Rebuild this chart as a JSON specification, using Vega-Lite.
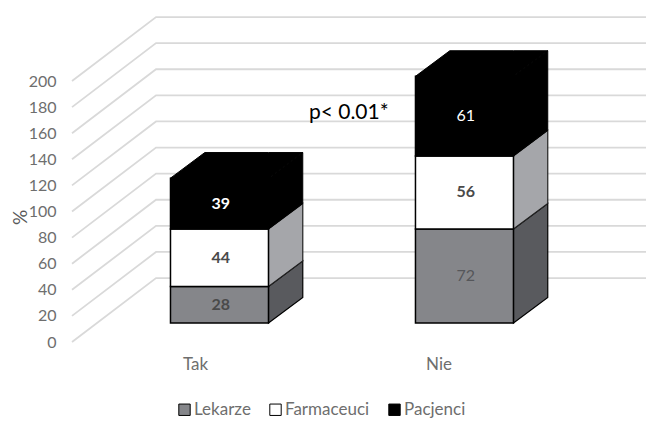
{
  "$schema": "https://vega.github.io/schema/vega-lite/v6.json",
  "width": 598,
  "height": 427,
  "autosize": "none",
  "padding": {"left": 60, "top": 0, "right": 0, "bottom": 0},
  "background": "white",
  "config": {"view": {"stroke": null}, "font": "Lato"},
  "datasets": {
    "grid": [
      {"tick": 0, "x": 0.398, "y": 0}, {"tick": 0, "x": 0.741, "y": 49}, {"tick": 0, "x": 2.741, "y": 49},
      {"tick": 20, "x": 0.398, "y": 20}, {"tick": 20, "x": 0.741, "y": 69}, {"tick": 20, "x": 2.741, "y": 69},
      {"tick": 40, "x": 0.398, "y": 40}, {"tick": 40, "x": 0.741, "y": 89}, {"tick": 40, "x": 2.741, "y": 89},
      {"tick": 60, "x": 0.398, "y": 60}, {"tick": 60, "x": 0.741, "y": 109}, {"tick": 60, "x": 2.741, "y": 109},
      {"tick": 80, "x": 0.398, "y": 80}, {"tick": 80, "x": 0.741, "y": 129}, {"tick": 80, "x": 2.741, "y": 129},
      {"tick": 100, "x": 0.398, "y": 100}, {"tick": 100, "x": 0.741, "y": 149}, {"tick": 100, "x": 2.741, "y": 149},
      {"tick": 120, "x": 0.398, "y": 120}, {"tick": 120, "x": 0.741, "y": 169}, {"tick": 120, "x": 2.741, "y": 169},
      {"tick": 140, "x": 0.398, "y": 140}, {"tick": 140, "x": 0.741, "y": 189}, {"tick": 140, "x": 2.741, "y": 189},
      {"tick": 160, "x": 0.398, "y": 160}, {"tick": 160, "x": 0.741, "y": 209}, {"tick": 160, "x": 2.741, "y": 209},
      {"tick": 180, "x": 0.398, "y": 180}, {"tick": 180, "x": 0.741, "y": 229}, {"tick": 180, "x": 2.741, "y": 229},
      {"tick": 200, "x": 0.398, "y": 200}, {"tick": 200, "x": 0.741, "y": 249}, {"tick": 200, "x": 2.741, "y": 249}
    ],
    "bars": [
      {"cat": "Tak", "series": "Lekarze", "value": 28, "left": 0.8, "right": 1.2, "center": 1.005, "start": 0, "end": 28, "mid": 14},
      {"cat": "Tak", "series": "Farmaceuci", "value": 44, "left": 0.8, "right": 1.2, "center": 1.005, "start": 28, "end": 72, "mid": 50},
      {"cat": "Tak", "series": "Pacjenci", "value": 39, "left": 0.8, "right": 1.2, "center": 1.005, "start": 72, "end": 111, "mid": 91.5},
      {"cat": "Nie", "series": "Lekarze", "value": 72, "left": 1.8, "right": 2.2, "center": 2.005, "start": 0, "end": 72, "mid": 36},
      {"cat": "Nie", "series": "Farmaceuci", "value": 56, "left": 1.8, "right": 2.2, "center": 2.005, "start": 72, "end": 128, "mid": 100},
      {"cat": "Nie", "series": "Pacjenci", "value": 61, "left": 1.8, "right": 2.2, "center": 2.005, "start": 128, "end": 189, "mid": 158.5}
    ],
    "sides": [
      {"cat": "Tak", "series": "Lekarze", "x": 1.2, "low": 0, "high": 28},
      {"cat": "Tak", "series": "Lekarze", "x": 1.34, "low": 19.6, "high": 47.6},
      {"cat": "Tak", "series": "Farmaceuci", "x": 1.2, "low": 28, "high": 72},
      {"cat": "Tak", "series": "Farmaceuci", "x": 1.34, "low": 47.6, "high": 91.6},
      {"cat": "Tak", "series": "Pacjenci", "x": 1.2, "low": 72, "high": 111},
      {"cat": "Tak", "series": "Pacjenci", "x": 1.34, "low": 91.6, "high": 130.6},
      {"cat": "Nie", "series": "Lekarze", "x": 2.2, "low": 0, "high": 72},
      {"cat": "Nie", "series": "Lekarze", "x": 2.34, "low": 19.6, "high": 91.6},
      {"cat": "Nie", "series": "Farmaceuci", "x": 2.2, "low": 72, "high": 128},
      {"cat": "Nie", "series": "Farmaceuci", "x": 2.34, "low": 91.6, "high": 147.6},
      {"cat": "Nie", "series": "Pacjenci", "x": 2.2, "low": 128, "high": 189},
      {"cat": "Nie", "series": "Pacjenci", "x": 2.34, "low": 147.6, "high": 208.6}
    ],
    "tops": [
      {"cat": "Tak", "x": 0.8, "low": 111, "high": 111},
      {"cat": "Tak", "x": 0.94, "low": 111, "high": 130.6},
      {"cat": "Tak", "x": 1.2, "low": 111, "high": 130.6},
      {"cat": "Tak", "x": 1.34, "low": 130.6, "high": 130.6},
      {"cat": "Nie", "x": 1.8, "low": 189, "high": 189},
      {"cat": "Nie", "x": 1.94, "low": 189, "high": 208.6},
      {"cat": "Nie", "x": 2.2, "low": 189, "high": 208.6},
      {"cat": "Nie", "x": 2.34, "low": 208.6, "high": 208.6}
    ],
    "catLabels": [
      {"cat": "Tak", "x": 0.902, "y": -32},
      {"cat": "Nie", "x": 1.896, "y": -32}
    ],
    "note": [
      {"text": "p< 0.01*", "x": 1.365, "y": 161}
    ]
  },
  "layer": [
    {
      "data": {"name": "grid"},
      "mark": {"type": "line", "color": "#D9D9D9", "strokeWidth": 1.8},
      "encoding": {
        "x": {"field": "x", "type": "quantitative", "scale": {"domain": [0.349, 2.79], "nice": false, "zero": false}, "axis": null},
        "y": {
          "field": "y",
          "type": "quantitative",
          "scale": {"domain": [-65.13, 262.07], "nice": false, "zero": false},
          "axis": {
            "title": "%",
            "titleFont": "Lato",
            "titleFontSize": 19,
            "titleFontWeight": "normal",
            "titleColor": "#595959",
            "titleX": -30,
            "titleY": 217,
            "values": [0, 20, 40, 60, 80, 100, 120, 140, 160, 180, 200],
            "domain": false,
            "ticks": false,
            "grid": false,
            "labelFont": "Lato",
            "labelFontSize": 16,
            "labelColor": "#6E6E6E",
            "labelPadding": 4
          }
        },
        "detail": {"field": "tick", "type": "nominal"}
      }
    },
    {
      "encoding": {
        "x": {"type": "quantitative", "scale": {"domain": [0.349, 2.79], "nice": false, "zero": false}, "axis": null},
        "y": {"type": "quantitative", "scale": {"domain": [-79.7, 247.5], "nice": false, "zero": false}, "axis": null}
      },
      "layer": [
        {
          "data": {"name": "sides"},
          "transform": [{"filter": "datum.series === 'Lekarze'"}],
          "mark": {"type": "area", "fill": "#595A5E", "stroke": "black", "strokeWidth": 1.2},
          "encoding": {
            "x": {"field": "x", "type": "quantitative"},
            "y": {"field": "low", "type": "quantitative"},
            "y2": {"field": "high"},
            "detail": {"field": "cat", "type": "nominal"}
          }
        },
        {
          "data": {"name": "sides"},
          "transform": [{"filter": "datum.series === 'Farmaceuci'"}],
          "mark": {"type": "area", "fill": "#A5A6AA", "stroke": "#222222", "strokeWidth": 1.2},
          "encoding": {
            "x": {"field": "x", "type": "quantitative"},
            "y": {"field": "low", "type": "quantitative"},
            "y2": {"field": "high"},
            "detail": {"field": "cat", "type": "nominal"}
          }
        },
        {
          "data": {"name": "sides"},
          "transform": [{"filter": "datum.series === 'Pacjenci'"}],
          "mark": {"type": "area", "fill": "black", "stroke": "black", "strokeWidth": 1},
          "encoding": {
            "x": {"field": "x", "type": "quantitative"},
            "y": {"field": "low", "type": "quantitative"},
            "y2": {"field": "high"},
            "detail": {"field": "cat", "type": "nominal"}
          }
        },
        {
          "data": {"name": "tops"},
          "mark": {"type": "area", "fill": "black", "stroke": "black", "strokeWidth": 1},
          "encoding": {
            "x": {"field": "x", "type": "quantitative"},
            "y": {"field": "low", "type": "quantitative"},
            "y2": {"field": "high"},
            "detail": {"field": "cat", "type": "nominal"}
          }
        },
        {
          "data": {"name": "bars"},
          "mark": {"type": "rect", "stroke": "black", "strokeWidth": 1.5},
          "encoding": {
            "x": {"field": "left", "type": "quantitative"},
            "x2": {"field": "right"},
            "y": {"field": "start", "type": "quantitative"},
            "y2": {"field": "end"},
            "color": {
              "field": "series",
              "type": "nominal",
              "scale": {"domain": ["Lekarze", "Farmaceuci", "Pacjenci"], "range": ["#85868A", "#FFFFFF", "#000000"]},
              "legend": {
                "title": null,
                "orient": "none",
                "legendX": 116,
                "legendY": 401,
                "direction": "horizontal",
                "columns": 3,
                "columnPadding": 16,
                "symbolType": "square",
                "symbolSize": 130,
                "symbolStrokeColor": "black",
                "symbolStrokeWidth": 1,
                "symbolOpacity": 1,
                "labelFont": "Lato",
                "labelFontSize": 17,
                "labelColor": "#6E6E6E",
                "labelOffset": 1
              }
            }
          }
        },
        {
          "data": {"name": "bars"},
          "transform": [{"filter": "datum.value === 28 || datum.value === 44 || datum.value === 56"}],
          "mark": {"type": "text", "font": "Lato", "fontSize": 16, "fontWeight": "bold", "color": "#4A4A4A"},
          "encoding": {
            "x": {"field": "center", "type": "quantitative"},
            "y": {"field": "mid", "type": "quantitative"},
            "text": {"field": "value", "type": "quantitative"}
          }
        },
        {
          "data": {"name": "bars"},
          "transform": [{"filter": "datum.value === 39"}],
          "mark": {"type": "text", "font": "Lato", "fontSize": 16, "fontWeight": "bold", "color": "white"},
          "encoding": {
            "x": {"field": "center", "type": "quantitative"},
            "y": {"field": "mid", "type": "quantitative"},
            "text": {"field": "value", "type": "quantitative"}
          }
        },
        {
          "data": {"name": "bars"},
          "transform": [{"filter": "datum.value === 72"}],
          "mark": {"type": "text", "font": "Lato", "fontSize": 16, "color": "#55565A"},
          "encoding": {
            "x": {"field": "center", "type": "quantitative"},
            "y": {"field": "mid", "type": "quantitative"},
            "text": {"field": "value", "type": "quantitative"}
          }
        },
        {
          "data": {"name": "bars"},
          "transform": [{"filter": "datum.value === 61"}],
          "mark": {"type": "text", "font": "Lato", "fontSize": 16, "color": "white"},
          "encoding": {
            "x": {"field": "center", "type": "quantitative"},
            "y": {"field": "mid", "type": "quantitative"},
            "text": {"field": "value", "type": "quantitative"}
          }
        },
        {
          "data": {"name": "catLabels"},
          "mark": {"type": "text", "font": "Lato", "fontSize": 17, "color": "#6E6E6E"},
          "encoding": {
            "x": {"field": "x", "type": "quantitative"},
            "y": {"field": "y", "type": "quantitative"},
            "text": {"field": "cat", "type": "nominal"}
          }
        },
        {
          "data": {"name": "note"},
          "mark": {"type": "text", "font": "Lato", "fontSize": 21, "color": "black", "align": "left"},
          "encoding": {
            "x": {"field": "x", "type": "quantitative"},
            "y": {"field": "y", "type": "quantitative"},
            "text": {"field": "text", "type": "nominal"}
          }
        }
      ]
    }
  ],
  "resolve": {"scale": {"y": "independent"}}
}
